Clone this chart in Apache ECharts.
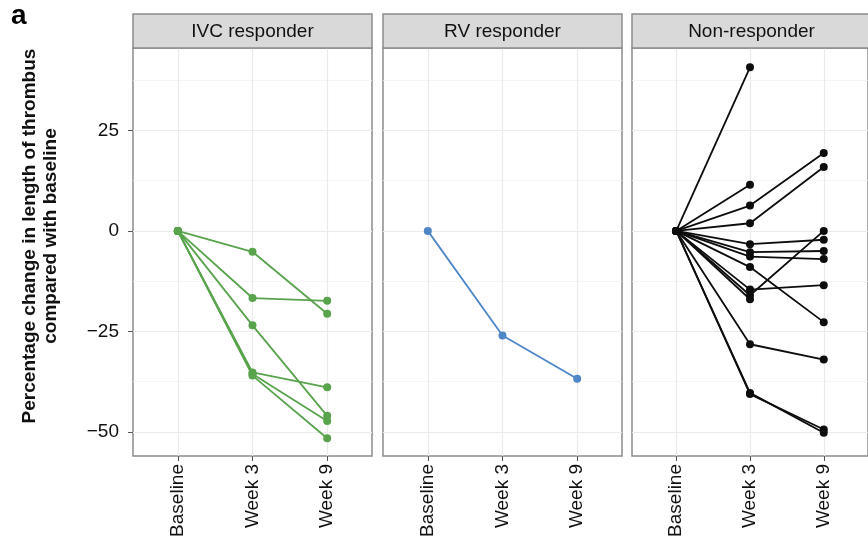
<!DOCTYPE html>
<html>
<head>
<meta charset="utf-8">
<script src="https://cdn.jsdelivr.net/npm/echarts@6/dist/echarts.min.js"></script>
<style>
  html, body { margin: 0; padding: 0; background: #fff; }
  #thrombusChart { width: 868px; height: 541px; }
</style>
</head>
<body>
<div id="thrombusChart"></div>
<script>
// values (% change vs baseline, per patient)
const timepoints = ['Baseline', 'Week 3', 'Week 9']
const panelTitles = ['IVC responder', 'RV responder', 'Non-responder']
const yTickValues = [-50, -25, 0, 25]
const yMinorValues = [-37.5, -12.5, 12.5, 37.5]

const ivcResponder = [
  [0, -5.2, -20.6],
  [0, -16.7, -17.4],
  [0, -23.5, -46.0],
  [0, -35.2, -38.9],
  [0, -35.6, -47.3],
  [0, -36.0, -51.6]
]
const rvResponder = [
  [0, -26.0, -36.8]
]
const nonResponder = [
  [0, 40.7, null],
  [0, 11.5, null],
  [0, 6.3, 19.4],
  [0, 1.9, 15.9],
  [0, -3.3, -2.2],
  [0, -5.3, -5.0],
  [0, -6.4, -7.0],
  [0, -9.0, -22.7],
  [0, -14.6, -13.5],
  [0, -16.0, 0.0],
  [0, -17.0, null],
  [0, -28.2, -32.0],
  [0, -40.6, -49.4],
  [0, -40.3, -50.2]
]

const panelData = [ivcResponder, rvResponder, nonResponder]
const panelColors = ['#58a34c', '#4f86c8', '#0d0d0d']
const panelLeft = [133, 383, 632]
const panelWidth = 239
const panelTop = 48
const panelHeight = 408

const chart = echarts.init(document.getElementById('thrombusChart'), null, { renderer: 'canvas' })

const fmtMinus = v => String(v).replace('-', '\u2212')

const grids = panelLeft.map(left => ({
  left: left,
  top: panelTop,
  width: panelWidth,
  height: panelHeight,
  show: true,
  borderColor: '#8c8c8c',
  borderWidth: 1.5
}))

const xAxes = panelLeft.map((left, i) => ({
  type: 'value',
  gridIndex: i,
  min: -0.6,
  max: 2.6,
  axisLine: { show: false, onZero: false },
  axisTick: {
    show: true,
    length: 5,
    customValues: [0, 1, 2],
    lineStyle: { color: '#555', width: 1 }
  },
  axisLabel: {
    customValues: [0, 1, 2],
    rotate: 90,
    margin: 8,
    fontFamily: 'Liberation Sans',
    fontSize: 19,
    color: '#111',
    formatter: v => timepoints[v]
  },
  splitLine: { show: true, lineStyle: { color: '#ebebeb', width: 1.2 } }
}))

const yAxes = []
panelLeft.forEach((left, i) => {
  yAxes.push({
    type: 'value',
    gridIndex: i,
    min: -56,
    max: 45.5,
    axisLine: { show: false, onZero: false },
    axisTick: {
      show: i === 0,
      length: 5,
      customValues: yTickValues,
      lineStyle: { color: '#555', width: 1 }
    },
    axisLabel: {
      show: i === 0,
      customValues: yTickValues,
      margin: 14,
      fontFamily: 'Liberation Sans',
      fontSize: 19,
      color: '#111',
      formatter: fmtMinus
    },
    splitLine: { show: true, lineStyle: { color: '#ebebeb', width: 1.2 } }
  })
})
// minor grid lines, one hidden axis per panel
panelLeft.forEach((left, i) => {
  yAxes.push({
    type: 'value',
    gridIndex: i,
    position: 'left',
    min: -56,
    max: 45.5,
    axisLine: { show: false, onZero: false },
    axisTick: { show: false, customValues: yMinorValues },
    axisLabel: { show: false, customValues: yMinorValues },
    splitLine: { show: true, lineStyle: { color: '#f3f3f3', width: 0.8 } }
  })
})

const series = []
panelData.forEach((subjects, i) => {
  subjects.forEach(subject => {
    series.push({
      type: 'line',
      xAxisIndex: i,
      yAxisIndex: i,
      data: subject.map((v, k) => [k, v]).filter(p => p[1] !== null),
      symbol: 'circle',
      symbolSize: 8,
      lineStyle: { color: panelColors[i], width: 1.8 },
      itemStyle: { color: panelColors[i] },
      silent: true,
      animation: false
    })
  })
})

const graphics = []
panelLeft.forEach((left, i) => {
  graphics.push({
    type: 'rect',
    shape: { x: left, y: 14, width: panelWidth, height: 34 },
    style: { fill: '#d9d9d9', stroke: '#8c8c8c', lineWidth: 1.5 },
    z: 10
  })
  graphics.push({
    type: 'text',
    x: left + panelWidth / 2,
    y: 32,
    style: {
      text: panelTitles[i],
      font: '19px "Liberation Sans"',
      fill: '#111',
      textAlign: 'center',
      textVerticalAlign: 'middle'
    },
    z: 11
  })
})
graphics.push({
  type: 'text',
  x: 11,
  y: 2,
  style: { text: 'a', font: 'bold 28px "Liberation Sans"', fill: '#000' }
})
graphics.push({
  type: 'text',
  x: 40,
  y: 236,
  rotation: Math.PI / 2,
  style: {
    text: 'Percentage change in length of thrombus\ncompared with baseline',
    font: 'bold 19px "Liberation Sans"',
    lineHeight: 21,
    fill: '#111',
    textAlign: 'center',
    textVerticalAlign: 'middle'
  }
})

chart.setOption({
  animation: false,
  grid: grids,
  xAxis: xAxes,
  yAxis: yAxes,
  series: series,
  graphic: graphics
})
</script>
</body>
</html>
